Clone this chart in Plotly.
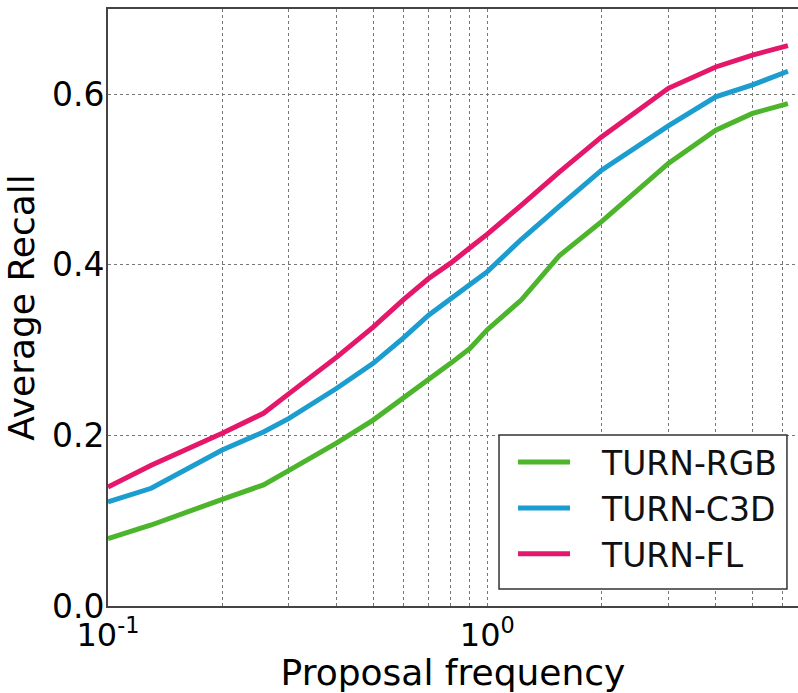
import plotly.graph_objects as go

# Proposal frequency (x) and average recall for each TURN variant
freq = [0.1, 0.13, 0.2, 0.257, 0.3, 0.4, 0.5, 0.6, 0.7, 0.8, 0.9, 1.0,
        1.23, 1.55, 2.0, 3.0, 4.0, 5.0, 6.2]
recall_rgb = [0.079, 0.095, 0.125, 0.142, 0.159, 0.191, 0.218, 0.2435, 0.265,
              0.2845, 0.302, 0.324, 0.359, 0.411, 0.4506, 0.519, 0.558, 0.5776, 0.589]
recall_c3d = [0.122, 0.138, 0.183, 0.204, 0.220, 0.255, 0.2845, 0.314, 0.341,
              0.361, 0.377, 0.392, 0.430, 0.469, 0.511, 0.563, 0.597, 0.611, 0.627]
recall_fl = [0.1395, 0.165, 0.2025, 0.226, 0.249, 0.2915, 0.327, 0.359, 0.384,
             0.402, 0.420, 0.436, 0.470, 0.509, 0.550, 0.607, 0.632, 0.646, 0.657]

series_names = ["TURN-RGB", "TURN-C3D", "TURN-FL"]
series_colors = ["#4cb52b", "#1b9dcf", "#e5176b"]

# Log-axis grid positions: decades labelled, intermediate values unlabelled
x_tickvals = [0.1, 0.2, 0.3, 0.4, 0.5, 0.6, 0.7, 0.8, 0.9, 1, 2, 3, 4, 5, 6]
x_ticktext = ["10<sup>-1</sup>"] + [""] * 8 + ["10<sup>0</sup>"] + [""] * 5
y_tickvals = [0.0, 0.2, 0.4, 0.6]
y_ticktext = ["0.0", "0.2", "0.4", "0.6"]

font_family = "DejaVu Sans"
legend_pad = "\u2002\u00a0"  # gap between legend line sample and label

fig = go.Figure()
for name, color, ys in zip(series_names, series_colors,
                           [recall_rgb, recall_c3d, recall_fl]):
    fig.add_trace(go.Scatter(x=freq, y=ys, mode="lines", name=legend_pad + name,
                             line=dict(color=color, width=5)))

# Framed white box behind the legend entries
fig.add_shape(type="rect", xref="paper", yref="paper",
              x0=0.5667, x1=0.984, y0=0.0285, y1=0.2864,
              fillcolor="white", line=dict(color="#333333", width=1.5),
              layer="above")

fig.update_layout(
    width=798, height=693,
    margin=dict(l=108, r=0, t=9, b=87),
    paper_bgcolor="white", plot_bgcolor="white",
    font=dict(family=font_family, size=33, color="black"),
    showlegend=True,
    legend=dict(
        x=0.587, y=0.288, xanchor="left", yanchor="top",
        bgcolor="rgba(0,0,0,0)", borderwidth=0,
        font=dict(family=font_family, size=33, color="#111111"),
        itemwidth=52,
        tracegroupgap=0,
    ),
)

fig.update_xaxes(
    type="log",
    range=[-1, 0.819],
    tickmode="array", tickvals=x_tickvals, ticktext=x_ticktext,
    showgrid=True, gridcolor="#777777", griddash="dot", gridwidth=1,
    showline=True, linecolor="#444444", linewidth=2, mirror=True,
    ticks="", zeroline=False,
    tickfont=dict(family=font_family, size=32),
    title=dict(text="Proposal frequency", standoff=4,
               font=dict(family=font_family, size=36)),
    automargin=False,
)

fig.update_yaxes(
    range=[0, 0.7],
    tickmode="array", tickvals=y_tickvals, ticktext=y_ticktext,
    showgrid=True, gridcolor="#777777", griddash="dot", gridwidth=1,
    showline=True, linecolor="#444444", linewidth=2, mirror=False,
    ticks="", zeroline=False,
    tickfont=dict(family=font_family, size=33),
    title=dict(text="Average Recall", standoff=6,
               font=dict(family=font_family, size=36)),
    automargin=False,
)
try:
    fig.update_yaxes(ticklabelstandoff=-5)
except ValueError:
    pass

fig.write_html("out.html")
